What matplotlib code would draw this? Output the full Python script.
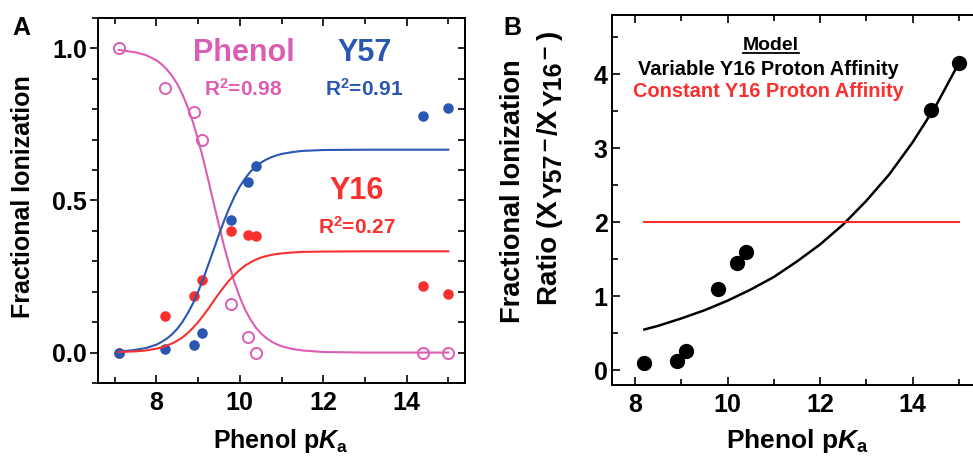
import matplotlib
matplotlib.use('Agg')
import matplotlib.pyplot as plt
from matplotlib.ticker import MultipleLocator

# 数据
pka = [7.1, 8.2, 8.9, 9.1, 9.8, 10.2, 10.4, 14.4, 15.0]
phenol_ion = [1.0, 0.87, 0.79, 0.70, 0.16, 0.05, 0.0, 0.0, 0.0]
y57_ion = [0.0, 0.011, 0.024, 0.063, 0.436, 0.562, 0.615, 0.778, 0.804]
y16_ion = [0.0, 0.12, 0.187, 0.238, 0.40, 0.385, 0.383, 0.22, 0.192]

# 拟合曲线（读取的点）
fit_pka = [7.1, 7.5, 7.75, 8.0, 8.125, 8.25, 8.375, 8.5, 8.625, 8.75,
           8.875, 9.0, 9.125, 9.25, 9.375, 9.5, 9.625, 9.75, 9.875, 10.0,
           10.125, 10.25, 10.375, 10.5, 10.625, 10.75, 10.875, 11.0, 11.25, 11.5,
           12.0, 13.0, 14.0, 15.0]
phenol_fit = [0.995, 0.987, 0.978, 0.961, 0.948, 0.931, 0.910, 0.883, 0.849, 0.807,
              0.758, 0.700, 0.635, 0.564, 0.491, 0.419, 0.349, 0.286, 0.230, 0.182,
              0.142, 0.110, 0.084, 0.064, 0.049, 0.037, 0.028, 0.021, 0.012, 0.007,
              0.002, 0.0, 0.0, 0.0]
y57_fit = [0.003, 0.009, 0.015, 0.026, 0.035, 0.046, 0.060, 0.078, 0.101, 0.129,
           0.161, 0.200, 0.243, 0.291, 0.339, 0.388, 0.434, 0.476, 0.514, 0.546,
           0.572, 0.594, 0.611, 0.624, 0.634, 0.642, 0.648, 0.653, 0.659, 0.663,
           0.666, 0.667, 0.667, 0.667]
y16_fit = [0.002, 0.004, 0.007, 0.013, 0.017, 0.023, 0.030, 0.039, 0.050, 0.064,
           0.081, 0.100, 0.122, 0.145, 0.170, 0.194, 0.217, 0.238, 0.256, 0.272,
           0.286, 0.296, 0.305, 0.312, 0.317, 0.321, 0.324, 0.326, 0.329, 0.331,
           0.332, 0.333, 0.333, 0.333]

ratio_pka = [8.2, 8.9, 9.1, 9.8, 10.2, 10.4, 14.4, 15.0]
ratio = [0.10, 0.13, 0.26, 1.10, 1.45, 1.60, 3.52, 4.15]
ratio_fit_pka = [8.2, 8.5, 9.0, 9.5, 10.0, 10.5, 11.0, 11.5, 12.0, 12.5,
                 13.0, 13.5, 14.0, 14.5, 15.0]
ratio_fit = [0.55, 0.60, 0.70, 0.81, 0.94, 1.09, 1.26, 1.47, 1.70, 1.97,
             2.29, 2.65, 3.08, 3.57, 4.15]
const_pka = [8.2, 15.0]
const_ratio = [2.0, 2.0]

PINK = '#DC5EB4'
BLUE = '#2A57B2'
RED = '#F8312F'

plt.rcParams['font.family'] = ['Liberation Sans', 'DejaVu Sans']
plt.rcParams['font.weight'] = 'bold'
plt.rcParams['axes.linewidth'] = 1.4
plt.rcParams['mathtext.fontset'] = 'custom'
plt.rcParams['mathtext.rm'] = 'Liberation Sans:bold'
plt.rcParams['mathtext.it'] = 'Liberation Sans:bold:italic'
plt.rcParams['mathtext.bf'] = 'Liberation Sans:bold'

fig = plt.figure(figsize=(9.73, 4.61), dpi=100)
W, H = 973, 461


def px_axes(l, t, r, b):
    return fig.add_axes([l / W, 1 - b / H, (r - l) / W, (b - t) / H])


# ---------- 面板 A ----------
ax = px_axes(98, 18, 465, 383)
ax.plot(pka, y16_ion, 'o', color=RED, ms=7.6, mec='none', zorder=2)
ax.plot(pka, y57_ion, 'o', color=BLUE, ms=7.6, mec='none', zorder=3)
ax.plot(pka, phenol_ion, 'o', mfc='none', mec=PINK, mew=1.4, ms=8.0, zorder=3)
ax.plot(fit_pka, phenol_fit, color=PINK, lw=1.5, zorder=4)
ax.plot(fit_pka, y57_fit, color=BLUE, lw=1.5, zorder=4)
ax.plot(fit_pka, y16_fit, color=RED, lw=1.5, zorder=4)

ax.set_xlim(6.6, 15.4)
ax.set_ylim(-0.1, 1.1)
ax.xaxis.set_major_locator(MultipleLocator(2))
ax.xaxis.set_minor_locator(MultipleLocator(1))
ax.yaxis.set_major_locator(MultipleLocator(0.5))
ax.yaxis.set_minor_locator(MultipleLocator(0.1))
ax.yaxis.set_major_formatter(plt.FormatStrFormatter('%.1f'))
ax.tick_params(axis='x', which='both', direction='in', top=True, labelsize=18, pad=6, width=1.2)
ax.tick_params(axis='y', which='both', direction='out', labelsize=18, pad=2, width=1.2)
ax.tick_params(which='major', length=6)
ax.tick_params(which='minor', length=4.5)
sec = ax.secondary_yaxis('right')
sec.yaxis.set_major_locator(MultipleLocator(0.1))
sec.tick_params(direction='in', length=5, width=1.2, labelright=False)
sec.spines['right'].set_linewidth(1.4)

ax.text(10.09, 0.986, 'Phenol', color=PINK, fontsize=22, ha='center', va='center')
ax.text(13.0, 0.986, 'Y57', color=BLUE, fontsize=22, ha='center', va='center')
ax.text(10.09, 0.866, 'R$^{2}$=0.98', color=PINK, fontsize=15, ha='center', va='center')
ax.text(12.97, 0.866, 'R$^{2}$=0.91', color=BLUE, fontsize=15, ha='center', va='center')
ax.text(12.8, 0.531, 'Y16', color=RED, fontsize=22, ha='center', va='center')
ax.text(12.8, 0.415, 'R$^{2}$=0.27', color=RED, fontsize=15, ha='center', va='center')

fig.text(23 / W, 1 - 197 / H, 'Fractional Ionization', rotation=90,
         fontsize=18, ha='center', va='center')
fig.text(281 / W, 1 - 448 / H, r'Phenol p$K_{\rm a}$', fontsize=18,
         ha='center', va='baseline')
fig.text(12 / W, 1 - 35 / H, 'A', fontsize=18, ha='left', va='baseline')

# ---------- 面板 B ----------
bx = px_axes(612, 15, 982, 385)
bx.plot(ratio_pka, ratio, 'o', color='black', ms=11, mec='none', zorder=3)
bx.plot(ratio_fit_pka, ratio_fit, color='black', lw=1.8, zorder=2)
bx.plot(const_pka, const_ratio, color=RED, lw=1.5, zorder=2)

bx.set_xlim(7.5, 15.5)
bx.set_ylim(-0.2, 4.8)
bx.xaxis.set_major_locator(MultipleLocator(2))
bx.xaxis.set_minor_locator(MultipleLocator(1))
bx.yaxis.set_major_locator(MultipleLocator(1))
bx.yaxis.set_minor_locator(MultipleLocator(0.5))
bx.tick_params(which='both', direction='in', top=True, right=True, width=1.2)
bx.tick_params(axis='x', labelsize=18, pad=6)
bx.tick_params(axis='y', labelsize=18, pad=3)
bx.tick_params(which='major', length=6)
bx.tick_params(which='minor', length=4.5)

t_model = bx.text(10.93, 4.39, 'Model', fontsize=14, ha='center', va='center')
bx.text(10.89, 4.07, 'Variable Y16 Proton Affinity', fontsize=14.4, ha='center', va='center')
bx.text(10.89, 3.77, 'Constant Y16 Proton Affinity', color=RED, fontsize=14.4,
        ha='center', va='center')

fig.text(513 / W, 1 - 191 / H, 'Fractional Ionization', rotation=90,
         fontsize=19.5, ha='center', va='center')
fig.text(797 / W, 1 - 448 / H, r'Phenol p$K_{\rm a}$', fontsize=19,
         ha='center', va='baseline')
fig.text(503 / W, 1 - 35 / H, 'B', fontsize=18, ha='left', va='baseline')

# 第二行纵轴标签：逐段竖排（文字, 字号, 基线偏移px, 段后间距px）
renderer = fig.canvas.get_renderer()
pieces = [('Ratio (X', 20, 0, 2), ('Y57', 18, 5, 3), ('\u2013', 17, -6, 3),
          ('/X', 20, 0, 2), ('Y16', 18, 5, 3), ('\u2013', 17, -6, 5), (')', 20, 0, 0)]
base_x = 557
cur_y = H - 305
for s, fs, dx, gap in pieces:
    t = fig.text((base_x + dx) / W, cur_y / H, s, rotation=90, rotation_mode='anchor',
                 ha='left', va='baseline', fontsize=fs)
    cur_y += t.get_window_extent(renderer).height + gap

# "Model" 下划线
fig.canvas.draw()
bb = t_model.get_window_extent().transformed(bx.transData.inverted())
bx.plot([bb.x0, bb.x1], [bb.y0 + 0.01, bb.y0 + 0.01], color='black', lw=1.3)

fig.savefig('out.png', dpi=100)
